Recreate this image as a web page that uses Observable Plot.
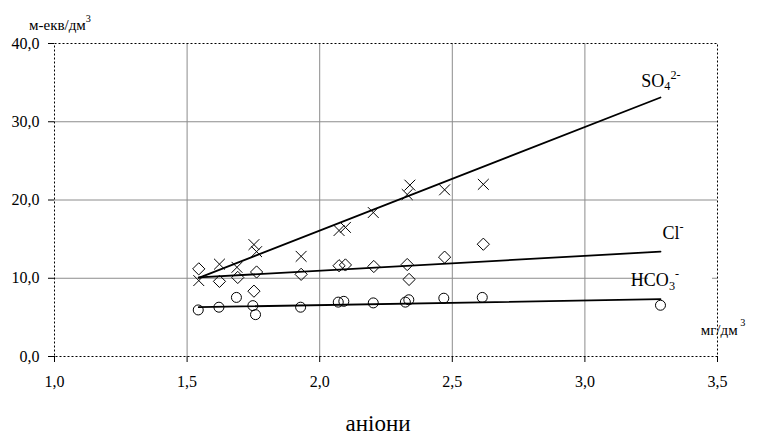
<!DOCTYPE html>
<html>
<head>
<meta charset="utf-8">
<script src="https://cdn.jsdelivr.net/npm/d3@7"></script>
<script src="https://cdn.jsdelivr.net/npm/@observablehq/plot@0.6"></script>
<style>
  html, body { margin: 0; padding: 0; background: #fff; }
  #chart svg { display: block; }
  #chart svg, #chart svg text { font-family: "Liberation Serif", "DejaVu Serif", "Times New Roman", serif !important; }
</style>
</head>
<body>
<div id="chart"></div>
<script>
// ---- data ----
const xTicks = [1.0, 1.5, 2.0, 2.5, 3.0, 3.5];
const yTicks = [0, 10, 20, 30, 40];

// SO4 2- (crosses)
const so4X = [1.544, 1.622, 1.688, 1.752, 1.762, 1.930, 2.073, 2.097, 2.202, 2.330, 2.340, 2.471, 2.617];
const so4Y = [9.7, 11.8, 11.4, 14.3, 13.4, 12.8, 16.1, 16.5, 18.4, 20.7, 21.9, 21.3, 22.0];

// Cl- (diamonds)
const clX = [1.544, 1.622, 1.691, 1.752, 1.762, 1.930, 2.073, 2.097, 2.204, 2.330, 2.337, 2.471, 2.617];
const clY = [11.2, 9.6, 10.1, 8.35, 10.8, 10.5, 11.6, 11.7, 11.5, 11.75, 9.85, 12.7, 14.35];

// HCO3- (circles)
const hcoX = [1.542, 1.620, 1.686, 1.748, 1.758, 1.928, 2.070, 2.091, 2.202, 2.323, 2.336, 2.468, 2.613, 3.285];
const hcoY = [5.95, 6.3, 7.55, 6.5, 5.35, 6.3, 6.95, 7.05, 6.85, 6.95, 7.25, 7.45, 7.55, 6.55];

// trend lines (start / end)
const trendX = [1.544, 3.285];
const so4Trend = [10.05, 33.1];
const clTrend = [10.1, 13.4];
const hcoTrend = [6.3, 7.32];

const yUnit = "м-екв/дм";
const xUnit = "мг/дм";
const xTitle = "аніони";

// ---- build tables ----
const pts = (xs, ys) => xs.map((x, i) => ({x, y: ys[i]}));
const so4 = pts(so4X, so4Y), cl = pts(clX, clY), hco = pts(hcoX, hcoY);
const lineOf = (ys) => trendX.map((x, i) => ({x, y: ys[i]}));
const fmt = d => d.toFixed(1).replace(".", ",");

const font = "Liberation Serif, DejaVu Serif, Times New Roman, serif";

const plot = Plot.plot({
  width: 772,
  height: 437,
  marginLeft: 54,
  marginRight: 55,
  marginTop: 43,
  marginBottom: 81,
  style: {fontFamily: font, fontSize: "16px", color: "#000", background: "#fff"},
  x: {domain: [1, 3.5]},
  y: {domain: [0, 40]},
  marks: [
    Plot.gridX([1.5, 2.0, 2.5, 3.0], {stroke: "#8c8c8c", strokeOpacity: 1, strokeWidth: 1}),
    Plot.gridY([10, 20, 30], {stroke: "#8c8c8c", strokeOpacity: 1, strokeWidth: 1}),
    Plot.frame({stroke: "#000", strokeDasharray: "2,2", strokeWidth: 1}),
    Plot.axisX({ticks: xTicks, tickFormat: fmt, tickSize: 6, tickPadding: 13, label: null, stroke: "#000"}),
    Plot.axisY({ticks: yTicks, tickFormat: fmt, tickSize: 6, tickPadding: 9, label: null, stroke: "#000"}),
    Plot.line(lineOf(so4Trend), {x: "x", y: "y", stroke: "#000", strokeWidth: 1.8}),
    Plot.line(lineOf(clTrend), {x: "x", y: "y", stroke: "#000", strokeWidth: 1.8}),
    Plot.line(lineOf(hcoTrend), {x: "x", y: "y", stroke: "#000", strokeWidth: 1.8}),
    Plot.dot(so4, {x: "x", y: "y", symbol: "times", r: 5, stroke: "#000", strokeWidth: 1, fill: "none"}),
    Plot.dot(cl, {x: "x", y: "y", symbol: "diamond2", r: 5.5, stroke: "#000", strokeWidth: 1, fill: "none"}),
    Plot.dot(hco, {x: "x", y: "y", symbol: "circle", r: 5, stroke: "#000", strokeWidth: 1, fill: "none"})
  ]
});

document.getElementById("chart").appendChild(plot);

// ---- labels with sub/superscripts ----
const svg = d3.select(plot);
const sx = plot.scale("x").apply, sy = plot.scale("y").apply;
const xe = sx(trendX[1]);

function label(x, y, parts, size) {
  const t = svg.append("text").attr("x", x).attr("y", y)
    .attr("font-family", font).attr("font-size", size).attr("fill", "#000");
  parts.forEach(p => {
    const ts = t.append("tspan").text(p.t);
    if (p.sub) ts.attr("font-size", size * 0.68).attr("dy", p.dy);
    else if (p.dy) ts.attr("dy", p.dy);
  });
  return t;
}

// SO4 2-
label(xe + 1, sy(so4Trend[1]) - 10, [
  {t: "SO"}, {t: "4", sub: true, dy: 3}, {t: "2-", sub: true, dy: -11}
], 18);
// Cl-
label(xe + 13, sy(clTrend[1]) - 12, [
  {t: "Cl"}, {t: "-", sub: true, dy: -8}
], 18);
// HCO3- with white box over gridline
svg.append("rect").attr("x", xe - 12).attr("y", sy(10) - 9).attr("width", 64).attr("height", 20).attr("fill", "#fff");
label(xe - 5, sy(10) + 8, [
  {t: "HCO"}, {t: "3", sub: true, dy: 4}, {t: "-", sub: true, dy: -12}
], 18);

// axis unit labels
label(60, 30, [{t: yUnit}, {t: "3", sub: true, dy: -8}], 15);
label(723, 335, [{t: xUnit}, {t: " 3", sub: true, dy: -9}], 15);

// x title
svg.append("text").attr("x", 378).attr("y", 431).attr("text-anchor", "middle")
  .attr("font-family", font).attr("font-size", 23).attr("fill", "#000").text(xTitle);
</script>
</body>
</html>
